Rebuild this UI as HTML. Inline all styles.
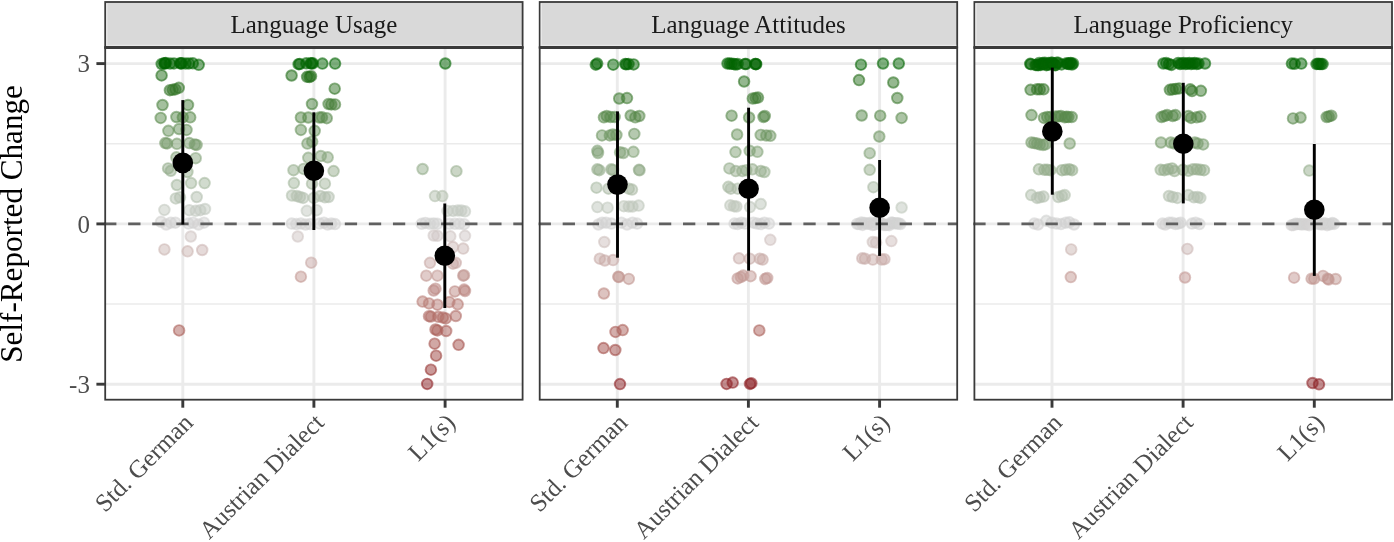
<!DOCTYPE html><html><head><meta charset="utf-8"><title>Self-Reported Change</title>
<style>html,body{margin:0;padding:0;background:#fff}svg{display:block}text{font-family:"Liberation Serif","DejaVu Serif",serif}.p circle{fill-opacity:0.5;stroke-opacity:0.57;stroke-width:1.9}</style></head><body>
<svg width="1394" height="542" viewBox="0 0 1394 542">
<rect width="1394" height="542" fill="#fff"/>
<g>
<line x1="105.2" x2="522.6" y1="143.8" y2="143.8" stroke="#ebebeb" stroke-width="1.45"/>
<line x1="105.2" x2="522.6" y1="304.0" y2="304.0" stroke="#ebebeb" stroke-width="1.45"/>
<line x1="105.2" x2="522.6" y1="63.6" y2="63.6" stroke="#ebebeb" stroke-width="2.9"/>
<line x1="105.2" x2="522.6" y1="223.9" y2="223.9" stroke="#ebebeb" stroke-width="2.9"/>
<line x1="105.2" x2="522.6" y1="384.2" y2="384.2" stroke="#ebebeb" stroke-width="2.9"/>
<line x1="182.8" x2="182.8" y1="47.5" y2="399.7" stroke="#ebebeb" stroke-width="2.9"/>
<line x1="313.9" x2="313.9" y1="47.5" y2="399.7" stroke="#ebebeb" stroke-width="2.9"/>
<line x1="445.1" x2="445.1" y1="47.5" y2="399.7" stroke="#ebebeb" stroke-width="2.9"/>
</g>
<g class="p">
<circle cx="161.7" cy="64.0" r="5.3" fill="#016401" stroke="#016401"/>
<circle cx="164.3" cy="63.2" r="5.3" fill="#006400" stroke="#006400"/>
<circle cx="165.0" cy="63.6" r="5.3" fill="#006400" stroke="#006400"/>
<circle cx="165.8" cy="63.0" r="5.3" fill="#006400" stroke="#006400"/>
<circle cx="170.0" cy="63.6" r="5.3" fill="#006400" stroke="#006400"/>
<circle cx="174.0" cy="63.4" r="5.3" fill="#006400" stroke="#006400"/>
<circle cx="180.2" cy="63.2" r="5.3" fill="#006400" stroke="#006400"/>
<circle cx="181.0" cy="63.5" r="5.3" fill="#006400" stroke="#006400"/>
<circle cx="181.8" cy="63.2" r="5.3" fill="#006400" stroke="#006400"/>
<circle cx="185.6" cy="63.5" r="5.3" fill="#006400" stroke="#006400"/>
<circle cx="188.9" cy="63.4" r="5.3" fill="#006400" stroke="#006400"/>
<circle cx="192.8" cy="63.3" r="5.3" fill="#006400" stroke="#006400"/>
<circle cx="198.7" cy="64.8" r="5.3" fill="#046502" stroke="#046502"/>
<circle cx="161.6" cy="75.4" r="5.3" fill="#206c16" stroke="#206c16"/>
<circle cx="169.9" cy="90.2" r="5.3" fill="#36762a" stroke="#36762a"/>
<circle cx="172.7" cy="89.8" r="5.3" fill="#36762a" stroke="#36762a"/>
<circle cx="175.4" cy="89.3" r="5.3" fill="#357629" stroke="#357629"/>
<circle cx="178.8" cy="87.8" r="5.3" fill="#337527" stroke="#337527"/>
<circle cx="162.5" cy="105.0" r="5.3" fill="#4a813d" stroke="#4a813d"/>
<circle cx="188.0" cy="105.0" r="5.3" fill="#4a813d" stroke="#4a813d"/>
<circle cx="160.7" cy="117.9" r="5.3" fill="#59894c" stroke="#59894c"/>
<circle cx="176.4" cy="117.0" r="5.3" fill="#58894b" stroke="#58894b"/>
<circle cx="182.8" cy="117.3" r="5.3" fill="#59894c" stroke="#59894c"/>
<circle cx="190.2" cy="117.3" r="5.3" fill="#59894c" stroke="#59894c"/>
<circle cx="168.4" cy="130.8" r="5.3" fill="#68925c" stroke="#68925c"/>
<circle cx="179.1" cy="129.0" r="5.3" fill="#66915a" stroke="#66915a"/>
<circle cx="186.5" cy="129.9" r="5.3" fill="#67925b" stroke="#67925b"/>
<circle cx="165.3" cy="143.1" r="5.3" fill="#779b6b" stroke="#779b6b"/>
<circle cx="167.1" cy="143.4" r="5.3" fill="#779b6b" stroke="#779b6b"/>
<circle cx="176.9" cy="143.8" r="5.3" fill="#779b6c" stroke="#779b6c"/>
<circle cx="189.3" cy="143.1" r="5.3" fill="#779b6b" stroke="#779b6b"/>
<circle cx="194.8" cy="144.4" r="5.3" fill="#789c6d" stroke="#789c6d"/>
<circle cx="196.6" cy="144.9" r="5.3" fill="#799c6d" stroke="#799c6d"/>
<circle cx="195.7" cy="158.2" r="5.3" fill="#88a57e" stroke="#88a57e"/>
<circle cx="176.4" cy="157.3" r="5.3" fill="#87a57d" stroke="#87a57d"/>
<circle cx="168.1" cy="168.4" r="5.3" fill="#93ac8b" stroke="#93ac8b"/>
<circle cx="170.8" cy="170.8" r="5.3" fill="#96ae8e" stroke="#96ae8e"/>
<circle cx="187.4" cy="172.0" r="5.3" fill="#98af8f" stroke="#98af8f"/>
<circle cx="176.9" cy="185.0" r="5.3" fill="#a6b8a0" stroke="#a6b8a0"/>
<circle cx="191.1" cy="183.1" r="5.3" fill="#a4b79d" stroke="#a4b79d"/>
<circle cx="204.6" cy="183.1" r="5.3" fill="#a4b79d" stroke="#a4b79d"/>
<circle cx="175.8" cy="198.4" r="5.3" fill="#b6c1b1" stroke="#b6c1b1"/>
<circle cx="180.0" cy="197.3" r="5.3" fill="#b4c0b0" stroke="#b4c0b0"/>
<circle cx="196.7" cy="197.0" r="5.3" fill="#b4c0af" stroke="#b4c0af"/>
<circle cx="164.4" cy="209.9" r="5.3" fill="#c3c9c0" stroke="#c3c9c0"/>
<circle cx="189.3" cy="210.2" r="5.3" fill="#c3c9c1" stroke="#c3c9c1"/>
<circle cx="195.7" cy="210.8" r="5.3" fill="#c4cac2" stroke="#c4cac2"/>
<circle cx="200.3" cy="210.2" r="5.3" fill="#c3c9c1" stroke="#c3c9c1"/>
<circle cx="205.0" cy="209.0" r="5.3" fill="#c2c9bf" stroke="#c2c9bf"/>
<circle cx="161.0" cy="221.8" r="5.3" fill="#d1d2d0" stroke="#d1d2d0"/>
<circle cx="166.2" cy="224.5" r="5.3" fill="#d3d2d2" stroke="#d3d2d2"/>
<circle cx="170.8" cy="222.7" r="5.3" fill="#d2d2d1" stroke="#d2d2d1"/>
<circle cx="175.4" cy="222.7" r="5.3" fill="#d2d2d1" stroke="#d2d2d1"/>
<circle cx="188.4" cy="223.6" r="5.3" fill="#d3d3d3" stroke="#d3d3d3"/>
<circle cx="193.0" cy="222.7" r="5.3" fill="#d2d2d1" stroke="#d2d2d1"/>
<circle cx="198.5" cy="224.5" r="5.3" fill="#d3d2d2" stroke="#d3d2d2"/>
<circle cx="204.0" cy="222.7" r="5.3" fill="#d2d2d1" stroke="#d2d2d1"/>
<circle cx="190.8" cy="236.5" r="5.3" fill="#d0c5c4" stroke="#d0c5c4"/>
<circle cx="164.4" cy="249.4" r="5.3" fill="#ccb7b4" stroke="#ccb7b4"/>
<circle cx="187.6" cy="251.3" r="5.3" fill="#ccb5b2" stroke="#ccb5b2"/>
<circle cx="202.2" cy="250.0" r="5.3" fill="#ccb6b4" stroke="#ccb6b4"/>
<circle cx="179.1" cy="330.4" r="5.3" fill="#ab6059" stroke="#ab6059"/>
<circle cx="298.6" cy="64.2" r="5.3" fill="#026401" stroke="#026401"/>
<circle cx="299.8" cy="64.0" r="5.3" fill="#016401" stroke="#016401"/>
<circle cx="306.3" cy="63.3" r="5.3" fill="#006400" stroke="#006400"/>
<circle cx="310.6" cy="63.3" r="5.3" fill="#006400" stroke="#006400"/>
<circle cx="311.6" cy="63.4" r="5.3" fill="#006400" stroke="#006400"/>
<circle cx="312.8" cy="63.3" r="5.3" fill="#006400" stroke="#006400"/>
<circle cx="322.4" cy="63.6" r="5.3" fill="#006400" stroke="#006400"/>
<circle cx="335.1" cy="63.6" r="5.3" fill="#006400" stroke="#006400"/>
<circle cx="291.6" cy="75.5" r="5.3" fill="#206c16" stroke="#206c16"/>
<circle cx="307.1" cy="76.8" r="5.3" fill="#226d18" stroke="#226d18"/>
<circle cx="309.4" cy="77.0" r="5.3" fill="#226d18" stroke="#226d18"/>
<circle cx="311.0" cy="76.2" r="5.3" fill="#216d17" stroke="#216d17"/>
<circle cx="334.7" cy="88.7" r="5.3" fill="#347528" stroke="#347528"/>
<circle cx="312.0" cy="104.0" r="5.3" fill="#48803b" stroke="#48803b"/>
<circle cx="328.6" cy="104.0" r="5.3" fill="#48803b" stroke="#48803b"/>
<circle cx="331.3" cy="104.4" r="5.3" fill="#49803c" stroke="#49803c"/>
<circle cx="335.0" cy="104.4" r="5.3" fill="#49803c" stroke="#49803c"/>
<circle cx="300.9" cy="117.5" r="5.3" fill="#59894c" stroke="#59894c"/>
<circle cx="308.3" cy="117.5" r="5.3" fill="#59894c" stroke="#59894c"/>
<circle cx="319.4" cy="117.5" r="5.3" fill="#59894c" stroke="#59894c"/>
<circle cx="322.0" cy="117.3" r="5.3" fill="#59894c" stroke="#59894c"/>
<circle cx="326.7" cy="118.2" r="5.3" fill="#5a8a4d" stroke="#5a8a4d"/>
<circle cx="300.9" cy="129.9" r="5.3" fill="#67925b" stroke="#67925b"/>
<circle cx="314.7" cy="130.8" r="5.3" fill="#68925c" stroke="#68925c"/>
<circle cx="307.4" cy="143.6" r="5.3" fill="#779b6c" stroke="#779b6c"/>
<circle cx="312.2" cy="141.6" r="5.3" fill="#759a69" stroke="#759a69"/>
<circle cx="308.3" cy="157.8" r="5.3" fill="#87a57d" stroke="#87a57d"/>
<circle cx="320.8" cy="156.0" r="5.3" fill="#85a47b" stroke="#85a47b"/>
<circle cx="327.7" cy="157.3" r="5.3" fill="#87a57d" stroke="#87a57d"/>
<circle cx="293.5" cy="170.2" r="5.3" fill="#96ae8d" stroke="#96ae8d"/>
<circle cx="303.7" cy="168.9" r="5.3" fill="#94ad8b" stroke="#94ad8b"/>
<circle cx="333.6" cy="171.1" r="5.3" fill="#97ae8e" stroke="#97ae8e"/>
<circle cx="293.9" cy="183.1" r="5.3" fill="#a4b79d" stroke="#a4b79d"/>
<circle cx="312.0" cy="183.7" r="5.3" fill="#a5b79e" stroke="#a5b79e"/>
<circle cx="324.9" cy="183.7" r="5.3" fill="#a5b79e" stroke="#a5b79e"/>
<circle cx="292.0" cy="195.5" r="5.3" fill="#b2bfad" stroke="#b2bfad"/>
<circle cx="296.8" cy="196.0" r="5.3" fill="#b3bfae" stroke="#b3bfae"/>
<circle cx="300.0" cy="197.0" r="5.3" fill="#b4c0af" stroke="#b4c0af"/>
<circle cx="303.1" cy="197.9" r="5.3" fill="#b5c1b1" stroke="#b5c1b1"/>
<circle cx="313.8" cy="197.9" r="5.3" fill="#b5c1b1" stroke="#b5c1b1"/>
<circle cx="320.3" cy="196.0" r="5.3" fill="#b3bfae" stroke="#b3bfae"/>
<circle cx="324.9" cy="197.3" r="5.3" fill="#b4c0b0" stroke="#b4c0b0"/>
<circle cx="328.6" cy="197.0" r="5.3" fill="#b4c0af" stroke="#b4c0af"/>
<circle cx="306.8" cy="210.8" r="5.3" fill="#c4cac2" stroke="#c4cac2"/>
<circle cx="316.6" cy="210.2" r="5.3" fill="#c3c9c1" stroke="#c3c9c1"/>
<circle cx="291.7" cy="223.6" r="5.3" fill="#d3d3d3" stroke="#d3d3d3"/>
<circle cx="296.3" cy="224.1" r="5.3" fill="#d3d3d3" stroke="#d3d3d3"/>
<circle cx="300.9" cy="223.6" r="5.3" fill="#d3d3d3" stroke="#d3d3d3"/>
<circle cx="305.5" cy="224.5" r="5.3" fill="#d3d2d2" stroke="#d3d2d2"/>
<circle cx="310.1" cy="224.1" r="5.3" fill="#d3d3d3" stroke="#d3d3d3"/>
<circle cx="319.4" cy="223.6" r="5.3" fill="#d3d3d3" stroke="#d3d3d3"/>
<circle cx="324.0" cy="222.7" r="5.3" fill="#d2d2d1" stroke="#d2d2d1"/>
<circle cx="327.7" cy="224.5" r="5.3" fill="#d3d2d2" stroke="#d3d2d2"/>
<circle cx="331.3" cy="223.6" r="5.3" fill="#d3d3d3" stroke="#d3d3d3"/>
<circle cx="335.0" cy="224.1" r="5.3" fill="#d3d3d3" stroke="#d3d3d3"/>
<circle cx="297.8" cy="236.5" r="5.3" fill="#d0c5c4" stroke="#d0c5c4"/>
<circle cx="311.2" cy="262.7" r="5.3" fill="#c8a8a5" stroke="#c8a8a5"/>
<circle cx="300.9" cy="276.7" r="5.3" fill="#c39994" stroke="#c39994"/>
<circle cx="445.3" cy="63.5" r="5.3" fill="#006400" stroke="#006400"/>
<circle cx="422.6" cy="169.0" r="5.3" fill="#94ad8b" stroke="#94ad8b"/>
<circle cx="456.4" cy="171.2" r="5.3" fill="#97ae8e" stroke="#97ae8e"/>
<circle cx="435.0" cy="196.1" r="5.3" fill="#b3c0ae" stroke="#b3c0ae"/>
<circle cx="442.3" cy="196.1" r="5.3" fill="#b3c0ae" stroke="#b3c0ae"/>
<circle cx="447.5" cy="210.9" r="5.3" fill="#c4cac2" stroke="#c4cac2"/>
<circle cx="453.0" cy="210.9" r="5.3" fill="#c4cac2" stroke="#c4cac2"/>
<circle cx="457.7" cy="210.5" r="5.3" fill="#c4cac1" stroke="#c4cac1"/>
<circle cx="461.3" cy="210.5" r="5.3" fill="#c4cac1" stroke="#c4cac1"/>
<circle cx="465.0" cy="211.3" r="5.3" fill="#c4cac2" stroke="#c4cac2"/>
<circle cx="421.7" cy="223.8" r="5.3" fill="#d3d3d3" stroke="#d3d3d3"/>
<circle cx="425.4" cy="222.9" r="5.3" fill="#d2d2d2" stroke="#d2d2d2"/>
<circle cx="430.0" cy="223.8" r="5.3" fill="#d3d3d3" stroke="#d3d3d3"/>
<circle cx="433.7" cy="223.4" r="5.3" fill="#d2d3d2" stroke="#d2d3d2"/>
<circle cx="437.4" cy="223.8" r="5.3" fill="#d3d3d3" stroke="#d3d3d3"/>
<circle cx="449.4" cy="223.8" r="5.3" fill="#d3d3d3" stroke="#d3d3d3"/>
<circle cx="454.9" cy="223.8" r="5.3" fill="#d3d3d3" stroke="#d3d3d3"/>
<circle cx="459.5" cy="223.8" r="5.3" fill="#d3d3d3" stroke="#d3d3d3"/>
<circle cx="464.1" cy="224.2" r="5.3" fill="#d3d3d3" stroke="#d3d3d3"/>
<circle cx="433.7" cy="235.5" r="5.3" fill="#d0c6c5" stroke="#d0c6c5"/>
<circle cx="437.4" cy="235.8" r="5.3" fill="#d0c6c5" stroke="#d0c6c5"/>
<circle cx="450.3" cy="236.3" r="5.3" fill="#d0c5c4" stroke="#d0c5c4"/>
<circle cx="465.0" cy="235.8" r="5.3" fill="#d0c6c5" stroke="#d0c6c5"/>
<circle cx="453.0" cy="247.1" r="5.3" fill="#cdb9b7" stroke="#cdb9b7"/>
<circle cx="463.2" cy="248.6" r="5.3" fill="#ccb8b5" stroke="#ccb8b5"/>
<circle cx="430.0" cy="262.8" r="5.3" fill="#c8a8a5" stroke="#c8a8a5"/>
<circle cx="453.0" cy="263.7" r="5.3" fill="#c8a7a4" stroke="#c8a7a4"/>
<circle cx="455.8" cy="262.8" r="5.3" fill="#c8a8a5" stroke="#c8a8a5"/>
<circle cx="426.3" cy="275.7" r="5.3" fill="#c39a96" stroke="#c39a96"/>
<circle cx="437.4" cy="275.7" r="5.3" fill="#c39a96" stroke="#c39a96"/>
<circle cx="463.2" cy="275.7" r="5.3" fill="#c39a96" stroke="#c39a96"/>
<circle cx="464.0" cy="275.2" r="5.3" fill="#c39b96" stroke="#c39b96"/>
<circle cx="433.7" cy="290.5" r="5.3" fill="#bd8a85" stroke="#bd8a85"/>
<circle cx="435.5" cy="288.7" r="5.3" fill="#be8c87" stroke="#be8c87"/>
<circle cx="454.9" cy="291.4" r="5.3" fill="#bd8984" stroke="#bd8984"/>
<circle cx="464.1" cy="289.6" r="5.3" fill="#be8b86" stroke="#be8b86"/>
<circle cx="465.0" cy="291.0" r="5.3" fill="#bd8a84" stroke="#bd8a84"/>
<circle cx="422.6" cy="301.6" r="5.3" fill="#b97f78" stroke="#b97f78"/>
<circle cx="429.0" cy="303.4" r="5.3" fill="#b87d76" stroke="#b87d76"/>
<circle cx="437.4" cy="304.7" r="5.3" fill="#b77b75" stroke="#b77b75"/>
<circle cx="449.4" cy="302.1" r="5.3" fill="#b87e78" stroke="#b87e78"/>
<circle cx="457.7" cy="304.3" r="5.3" fill="#b87c75" stroke="#b87c75"/>
<circle cx="429.0" cy="316.2" r="5.3" fill="#b26f69" stroke="#b26f69"/>
<circle cx="430.9" cy="316.6" r="5.3" fill="#b26e68" stroke="#b26e68"/>
<circle cx="438.3" cy="316.8" r="5.3" fill="#b26e68" stroke="#b26e68"/>
<circle cx="442.9" cy="317.5" r="5.3" fill="#b16d67" stroke="#b16d67"/>
<circle cx="445.7" cy="318.4" r="5.3" fill="#b16d66" stroke="#b16d66"/>
<circle cx="455.8" cy="316.0" r="5.3" fill="#b26f69" stroke="#b26f69"/>
<circle cx="435.5" cy="329.5" r="5.3" fill="#ab615a" stroke="#ab615a"/>
<circle cx="437.4" cy="330.4" r="5.3" fill="#ab6059" stroke="#ab6059"/>
<circle cx="446.2" cy="331.0" r="5.3" fill="#ab5f59" stroke="#ab5f59"/>
<circle cx="434.6" cy="343.7" r="5.3" fill="#a4514c" stroke="#a4514c"/>
<circle cx="458.6" cy="344.8" r="5.3" fill="#a3504a" stroke="#a3504a"/>
<circle cx="436.1" cy="355.7" r="5.3" fill="#9d443f" stroke="#9d443f"/>
<circle cx="430.9" cy="369.7" r="5.3" fill="#953332" stroke="#953332"/>
<circle cx="427.2" cy="383.9" r="5.3" fill="#8c2024" stroke="#8c2024"/>
</g>
<line x1="104.1" x2="522.6" y1="223.9" y2="223.9" stroke="#606060" stroke-width="2.9" stroke-dasharray="12.3,11.77"/>
<line x1="182.8" x2="182.8" y1="100.1" y2="224.5" stroke="#000" stroke-width="2.9"/>
<circle cx="182.8" cy="162.9" r="10.3" fill="#000"/>
<line x1="313.85" x2="313.85" y1="112.3" y2="230" stroke="#000" stroke-width="2.9"/>
<circle cx="313.85" cy="170.8" r="10.3" fill="#000"/>
<line x1="444.8" x2="444.8" y1="203.5" y2="308" stroke="#000" stroke-width="2.9"/>
<circle cx="444.8" cy="255.7" r="10.3" fill="#000"/>
<rect x="105.2" y="47.5" width="417.4" height="352.2" fill="none" stroke="#3a3a3a" stroke-width="1.8"/>
<rect x="105.2" y="2.0" width="417.4" height="45.5" fill="#d9d9d9" stroke="#3a3a3a" stroke-width="1.8"/>
<path d="M106.8 3.2 V45.3 H521.6" fill="none" stroke="#e8e8e8" stroke-width="1.3"/>
<line x1="104.4" x2="523.4" y1="47.5" y2="47.5" stroke="#3a3a3a" stroke-width="3.1"/>
<text x="313.9" y="32.9" font-size="24.95" text-anchor="middle" fill="#1a1a1a">Language Usage</text>
<line x1="182.8" x2="182.8" y1="399.7" y2="407.7" stroke="#3a3a3a" stroke-width="2.9"/>
<text transform="translate(194.2,424.1) rotate(-45)" font-size="24.95" text-anchor="end" fill="#4d4d4d">Std. German</text>
<line x1="313.9" x2="313.9" y1="399.7" y2="407.7" stroke="#3a3a3a" stroke-width="2.9"/>
<text transform="translate(325.3,424.1) rotate(-45)" font-size="24.95" text-anchor="end" fill="#4d4d4d">Austrian Dialect</text>
<line x1="445.1" x2="445.1" y1="399.7" y2="407.7" stroke="#3a3a3a" stroke-width="2.9"/>
<text transform="translate(456.5,424.1) rotate(-45)" font-size="24.95" text-anchor="end" fill="#4d4d4d">L1(s)</text>
<g>
<line x1="539.7" x2="957.2" y1="143.8" y2="143.8" stroke="#ebebeb" stroke-width="1.45"/>
<line x1="539.7" x2="957.2" y1="304.0" y2="304.0" stroke="#ebebeb" stroke-width="1.45"/>
<line x1="539.7" x2="957.2" y1="63.6" y2="63.6" stroke="#ebebeb" stroke-width="2.9"/>
<line x1="539.7" x2="957.2" y1="223.9" y2="223.9" stroke="#ebebeb" stroke-width="2.9"/>
<line x1="539.7" x2="957.2" y1="384.2" y2="384.2" stroke="#ebebeb" stroke-width="2.9"/>
<line x1="617.3" x2="617.3" y1="47.5" y2="399.7" stroke="#ebebeb" stroke-width="2.9"/>
<line x1="748.4" x2="748.4" y1="47.5" y2="399.7" stroke="#ebebeb" stroke-width="2.9"/>
<line x1="879.6" x2="879.6" y1="47.5" y2="399.7" stroke="#ebebeb" stroke-width="2.9"/>
</g>
<g class="p">
<circle cx="595.8" cy="64.7" r="5.3" fill="#046502" stroke="#046502"/>
<circle cx="597.2" cy="63.6" r="5.3" fill="#006400" stroke="#006400"/>
<circle cx="613.2" cy="64.7" r="5.3" fill="#046502" stroke="#046502"/>
<circle cx="625.3" cy="64.0" r="5.3" fill="#016401" stroke="#016401"/>
<circle cx="626.4" cy="64.3" r="5.3" fill="#026401" stroke="#026401"/>
<circle cx="628.6" cy="64.1" r="5.3" fill="#026401" stroke="#026401"/>
<circle cx="633.6" cy="64.4" r="5.3" fill="#036501" stroke="#036501"/>
<circle cx="619.2" cy="98.5" r="5.3" fill="#417c35" stroke="#417c35"/>
<circle cx="627.0" cy="98.1" r="5.3" fill="#417c34" stroke="#417c34"/>
<circle cx="603.9" cy="117.3" r="5.3" fill="#59894c" stroke="#59894c"/>
<circle cx="606.7" cy="116.0" r="5.3" fill="#57884a" stroke="#57884a"/>
<circle cx="610.4" cy="117.0" r="5.3" fill="#58894b" stroke="#58894b"/>
<circle cx="614.6" cy="117.0" r="5.3" fill="#58894b" stroke="#58894b"/>
<circle cx="630.7" cy="115.5" r="5.3" fill="#568849" stroke="#568849"/>
<circle cx="635.3" cy="117.3" r="5.3" fill="#59894c" stroke="#59894c"/>
<circle cx="639.3" cy="116.0" r="5.3" fill="#57884a" stroke="#57884a"/>
<circle cx="602.0" cy="135.4" r="5.3" fill="#6e9562" stroke="#6e9562"/>
<circle cx="609.8" cy="135.4" r="5.3" fill="#6e9562" stroke="#6e9562"/>
<circle cx="612.8" cy="134.5" r="5.3" fill="#6d9560" stroke="#6d9560"/>
<circle cx="616.4" cy="135.0" r="5.3" fill="#6d9561" stroke="#6d9561"/>
<circle cx="634.3" cy="133.9" r="5.3" fill="#6c9460" stroke="#6c9460"/>
<circle cx="597.4" cy="150.8" r="5.3" fill="#7fa075" stroke="#7fa075"/>
<circle cx="598.0" cy="153.0" r="5.3" fill="#82a277" stroke="#82a277"/>
<circle cx="620.1" cy="152.3" r="5.3" fill="#81a176" stroke="#81a176"/>
<circle cx="623.3" cy="153.0" r="5.3" fill="#82a277" stroke="#82a277"/>
<circle cx="633.4" cy="151.8" r="5.3" fill="#81a176" stroke="#81a176"/>
<circle cx="597.4" cy="169.3" r="5.3" fill="#95ad8c" stroke="#95ad8c"/>
<circle cx="599.3" cy="170.2" r="5.3" fill="#96ae8d" stroke="#96ae8d"/>
<circle cx="611.3" cy="169.3" r="5.3" fill="#95ad8c" stroke="#95ad8c"/>
<circle cx="613.0" cy="170.0" r="5.3" fill="#95ad8d" stroke="#95ad8d"/>
<circle cx="639.0" cy="169.8" r="5.3" fill="#95ad8c" stroke="#95ad8c"/>
<circle cx="639.5" cy="170.3" r="5.3" fill="#96ae8d" stroke="#96ae8d"/>
<circle cx="596.5" cy="187.7" r="5.3" fill="#a9baa3" stroke="#a9baa3"/>
<circle cx="608.5" cy="188.7" r="5.3" fill="#abbaa5" stroke="#abbaa5"/>
<circle cx="628.8" cy="188.7" r="5.3" fill="#abbaa5" stroke="#abbaa5"/>
<circle cx="632.0" cy="189.6" r="5.3" fill="#acbba6" stroke="#acbba6"/>
<circle cx="597.4" cy="207.1" r="5.3" fill="#c0c7bd" stroke="#c0c7bd"/>
<circle cx="607.6" cy="207.7" r="5.3" fill="#c0c8bd" stroke="#c0c8bd"/>
<circle cx="623.8" cy="206.2" r="5.3" fill="#bfc7bb" stroke="#bfc7bb"/>
<circle cx="628.8" cy="206.5" r="5.3" fill="#bfc7bc" stroke="#bfc7bc"/>
<circle cx="632.5" cy="206.5" r="5.3" fill="#bfc7bc" stroke="#bfc7bc"/>
<circle cx="638.6" cy="205.6" r="5.3" fill="#bec6bb" stroke="#bec6bb"/>
<circle cx="598.4" cy="224.5" r="5.3" fill="#d3d2d2" stroke="#d3d2d2"/>
<circle cx="602.1" cy="222.7" r="5.3" fill="#d2d2d1" stroke="#d2d2d1"/>
<circle cx="606.1" cy="222.7" r="5.3" fill="#d2d2d1" stroke="#d2d2d1"/>
<circle cx="611.3" cy="223.6" r="5.3" fill="#d3d3d3" stroke="#d3d3d3"/>
<circle cx="621.4" cy="222.7" r="5.3" fill="#d2d2d1" stroke="#d2d2d1"/>
<circle cx="627.0" cy="224.5" r="5.3" fill="#d3d2d2" stroke="#d3d2d2"/>
<circle cx="632.5" cy="222.7" r="5.3" fill="#d2d2d1" stroke="#d2d2d1"/>
<circle cx="637.1" cy="223.6" r="5.3" fill="#d3d3d3" stroke="#d3d3d3"/>
<circle cx="604.3" cy="242.0" r="5.3" fill="#cebfbd" stroke="#cebfbd"/>
<circle cx="599.8" cy="258.7" r="5.3" fill="#c9ada9" stroke="#c9ada9"/>
<circle cx="604.8" cy="260.5" r="5.3" fill="#c9aba7" stroke="#c9aba7"/>
<circle cx="613.1" cy="260.1" r="5.3" fill="#c9aba8" stroke="#c9aba8"/>
<circle cx="618.3" cy="276.7" r="5.3" fill="#c39994" stroke="#c39994"/>
<circle cx="618.8" cy="277.0" r="5.3" fill="#c39994" stroke="#c39994"/>
<circle cx="628.8" cy="278.9" r="5.3" fill="#c29792" stroke="#c29792"/>
<circle cx="603.9" cy="293.5" r="5.3" fill="#bc8781" stroke="#bc8781"/>
<circle cx="615.5" cy="331.9" r="5.3" fill="#aa5e58" stroke="#aa5e58"/>
<circle cx="622.7" cy="330.1" r="5.3" fill="#ab605a" stroke="#ab605a"/>
<circle cx="603.5" cy="348.1" r="5.3" fill="#a24c47" stroke="#a24c47"/>
<circle cx="615.3" cy="350.0" r="5.3" fill="#a04a45" stroke="#a04a45"/>
<circle cx="620.0" cy="384.1" r="5.3" fill="#8c2024" stroke="#8c2024"/>
<circle cx="727.5" cy="63.5" r="5.3" fill="#006400" stroke="#006400"/>
<circle cx="729.7" cy="63.5" r="5.3" fill="#006400" stroke="#006400"/>
<circle cx="731.8" cy="63.8" r="5.3" fill="#016400" stroke="#016400"/>
<circle cx="734.0" cy="64.0" r="5.3" fill="#016401" stroke="#016401"/>
<circle cx="735.8" cy="64.5" r="5.3" fill="#036502" stroke="#036502"/>
<circle cx="737.7" cy="64.0" r="5.3" fill="#016401" stroke="#016401"/>
<circle cx="745.0" cy="64.0" r="5.3" fill="#016401" stroke="#016401"/>
<circle cx="746.0" cy="64.0" r="5.3" fill="#016401" stroke="#016401"/>
<circle cx="755.2" cy="64.0" r="5.3" fill="#016401" stroke="#016401"/>
<circle cx="755.8" cy="64.0" r="5.3" fill="#016401" stroke="#016401"/>
<circle cx="756.2" cy="64.2" r="5.3" fill="#026401" stroke="#026401"/>
<circle cx="744.1" cy="81.5" r="5.3" fill="#2a701f" stroke="#2a701f"/>
<circle cx="752.8" cy="98.5" r="5.3" fill="#417c35" stroke="#417c35"/>
<circle cx="755.6" cy="98.1" r="5.3" fill="#417c34" stroke="#417c34"/>
<circle cx="758.0" cy="97.6" r="5.3" fill="#407b33" stroke="#407b33"/>
<circle cx="731.6" cy="115.7" r="5.3" fill="#57884a" stroke="#57884a"/>
<circle cx="749.1" cy="117.5" r="5.3" fill="#59894c" stroke="#59894c"/>
<circle cx="763.5" cy="117.0" r="5.3" fill="#58894b" stroke="#58894b"/>
<circle cx="764.8" cy="116.0" r="5.3" fill="#57884a" stroke="#57884a"/>
<circle cx="737.1" cy="134.5" r="5.3" fill="#6d9560" stroke="#6d9560"/>
<circle cx="760.7" cy="134.9" r="5.3" fill="#6d9561" stroke="#6d9561"/>
<circle cx="766.3" cy="135.4" r="5.3" fill="#6e9562" stroke="#6e9562"/>
<circle cx="770.3" cy="135.8" r="5.3" fill="#6e9662" stroke="#6e9662"/>
<circle cx="735.5" cy="152.1" r="5.3" fill="#81a176" stroke="#81a176"/>
<circle cx="749.7" cy="150.8" r="5.3" fill="#7fa075" stroke="#7fa075"/>
<circle cx="757.4" cy="151.8" r="5.3" fill="#81a176" stroke="#81a176"/>
<circle cx="729.4" cy="168.4" r="5.3" fill="#93ac8b" stroke="#93ac8b"/>
<circle cx="735.8" cy="171.1" r="5.3" fill="#97ae8e" stroke="#97ae8e"/>
<circle cx="742.3" cy="171.1" r="5.3" fill="#97ae8e" stroke="#97ae8e"/>
<circle cx="746.3" cy="170.2" r="5.3" fill="#96ae8d" stroke="#96ae8d"/>
<circle cx="752.4" cy="169.3" r="5.3" fill="#95ad8c" stroke="#95ad8c"/>
<circle cx="760.7" cy="171.1" r="5.3" fill="#97ae8e" stroke="#97ae8e"/>
<circle cx="764.4" cy="172.0" r="5.3" fill="#98af8f" stroke="#98af8f"/>
<circle cx="728.4" cy="186.8" r="5.3" fill="#a8b9a2" stroke="#a8b9a2"/>
<circle cx="730.8" cy="188.7" r="5.3" fill="#abbaa5" stroke="#abbaa5"/>
<circle cx="737.7" cy="188.7" r="5.3" fill="#abbaa5" stroke="#abbaa5"/>
<circle cx="730.3" cy="205.3" r="5.3" fill="#bec6ba" stroke="#bec6ba"/>
<circle cx="734.0" cy="206.2" r="5.3" fill="#bfc7bb" stroke="#bfc7bb"/>
<circle cx="736.4" cy="206.5" r="5.3" fill="#bfc7bc" stroke="#bfc7bc"/>
<circle cx="750.0" cy="207.1" r="5.3" fill="#c0c7bd" stroke="#c0c7bd"/>
<circle cx="760.7" cy="204.0" r="5.3" fill="#bcc5b9" stroke="#bcc5b9"/>
<circle cx="734.5" cy="223.6" r="5.3" fill="#d3d3d3" stroke="#d3d3d3"/>
<circle cx="737.7" cy="224.1" r="5.3" fill="#d3d3d3" stroke="#d3d3d3"/>
<circle cx="741.4" cy="222.7" r="5.3" fill="#d2d2d1" stroke="#d2d2d1"/>
<circle cx="745.0" cy="223.6" r="5.3" fill="#d3d3d3" stroke="#d3d3d3"/>
<circle cx="753.4" cy="222.7" r="5.3" fill="#d2d2d1" stroke="#d2d2d1"/>
<circle cx="757.0" cy="223.6" r="5.3" fill="#d3d3d3" stroke="#d3d3d3"/>
<circle cx="760.7" cy="224.1" r="5.3" fill="#d3d3d3" stroke="#d3d3d3"/>
<circle cx="764.4" cy="222.7" r="5.3" fill="#d2d2d1" stroke="#d2d2d1"/>
<circle cx="769.0" cy="223.6" r="5.3" fill="#d3d3d3" stroke="#d3d3d3"/>
<circle cx="770.3" cy="239.8" r="5.3" fill="#cfc1c0" stroke="#cfc1c0"/>
<circle cx="739.0" cy="258.3" r="5.3" fill="#c9adaa" stroke="#c9adaa"/>
<circle cx="749.7" cy="258.7" r="5.3" fill="#c9ada9" stroke="#c9ada9"/>
<circle cx="759.8" cy="258.7" r="5.3" fill="#c9ada9" stroke="#c9ada9"/>
<circle cx="762.6" cy="259.6" r="5.3" fill="#c9aca8" stroke="#c9aca8"/>
<circle cx="737.7" cy="278.4" r="5.3" fill="#c29793" stroke="#c29793"/>
<circle cx="740.8" cy="277.1" r="5.3" fill="#c39994" stroke="#c39994"/>
<circle cx="743.2" cy="275.6" r="5.3" fill="#c39a96" stroke="#c39a96"/>
<circle cx="750.6" cy="276.2" r="5.3" fill="#c39a95" stroke="#c39a95"/>
<circle cx="765.3" cy="278.9" r="5.3" fill="#c29792" stroke="#c29792"/>
<circle cx="767.2" cy="278.0" r="5.3" fill="#c29893" stroke="#c29893"/>
<circle cx="759.3" cy="330.4" r="5.3" fill="#ab6059" stroke="#ab6059"/>
<circle cx="726.6" cy="383.9" r="5.3" fill="#8c2024" stroke="#8c2024"/>
<circle cx="732.7" cy="382.6" r="5.3" fill="#8d2225" stroke="#8d2225"/>
<circle cx="750.0" cy="383.9" r="5.3" fill="#8c2024" stroke="#8c2024"/>
<circle cx="751.3" cy="383.2" r="5.3" fill="#8d2125" stroke="#8d2125"/>
<circle cx="861.0" cy="64.7" r="5.3" fill="#046502" stroke="#046502"/>
<circle cx="883.0" cy="63.5" r="5.3" fill="#006400" stroke="#006400"/>
<circle cx="898.8" cy="63.5" r="5.3" fill="#006400" stroke="#006400"/>
<circle cx="859.0" cy="80.1" r="5.3" fill="#286f1d" stroke="#286f1d"/>
<circle cx="893.3" cy="82.5" r="5.3" fill="#2b7120" stroke="#2b7120"/>
<circle cx="897.3" cy="98.0" r="5.3" fill="#417c34" stroke="#417c34"/>
<circle cx="861.7" cy="115.5" r="5.3" fill="#568849" stroke="#568849"/>
<circle cx="880.2" cy="115.7" r="5.3" fill="#57884a" stroke="#57884a"/>
<circle cx="901.6" cy="117.9" r="5.3" fill="#59894c" stroke="#59894c"/>
<circle cx="879.3" cy="136.5" r="5.3" fill="#6f9663" stroke="#6f9663"/>
<circle cx="869.7" cy="153.2" r="5.3" fill="#82a278" stroke="#82a278"/>
<circle cx="869.7" cy="169.8" r="5.3" fill="#95ad8c" stroke="#95ad8c"/>
<circle cx="873.4" cy="187.2" r="5.3" fill="#a9b9a3" stroke="#a9b9a3"/>
<circle cx="901.6" cy="207.5" r="5.3" fill="#c0c8bd" stroke="#c0c8bd"/>
<circle cx="857.2" cy="223.9" r="5.3" fill="#d3d3d3" stroke="#d3d3d3"/>
<circle cx="859.2" cy="224.1" r="5.3" fill="#d3d3d3" stroke="#d3d3d3"/>
<circle cx="861.4" cy="222.4" r="5.3" fill="#d1d2d1" stroke="#d1d2d1"/>
<circle cx="862.6" cy="224.9" r="5.3" fill="#d3d2d2" stroke="#d3d2d2"/>
<circle cx="864.7" cy="222.9" r="5.3" fill="#d2d2d2" stroke="#d2d2d2"/>
<circle cx="867.3" cy="223.7" r="5.3" fill="#d3d3d3" stroke="#d3d3d3"/>
<circle cx="869.1" cy="223.7" r="5.3" fill="#d3d3d3" stroke="#d3d3d3"/>
<circle cx="870.7" cy="222.7" r="5.3" fill="#d2d2d1" stroke="#d2d2d1"/>
<circle cx="872.6" cy="225.0" r="5.3" fill="#d3d2d2" stroke="#d3d2d2"/>
<circle cx="874.3" cy="224.6" r="5.3" fill="#d3d2d2" stroke="#d3d2d2"/>
<circle cx="876.4" cy="222.4" r="5.3" fill="#d1d2d1" stroke="#d1d2d1"/>
<circle cx="878.3" cy="224.1" r="5.3" fill="#d3d3d3" stroke="#d3d3d3"/>
<circle cx="879.7" cy="222.3" r="5.3" fill="#d1d2d1" stroke="#d1d2d1"/>
<circle cx="882.2" cy="223.7" r="5.3" fill="#d3d3d3" stroke="#d3d3d3"/>
<circle cx="883.9" cy="225.0" r="5.3" fill="#d3d2d2" stroke="#d3d2d2"/>
<circle cx="885.8" cy="225.1" r="5.3" fill="#d3d2d1" stroke="#d3d2d1"/>
<circle cx="887.3" cy="224.8" r="5.3" fill="#d3d2d2" stroke="#d3d2d2"/>
<circle cx="889.2" cy="225.2" r="5.3" fill="#d3d2d1" stroke="#d3d2d1"/>
<circle cx="891.5" cy="222.5" r="5.3" fill="#d1d2d1" stroke="#d1d2d1"/>
<circle cx="892.7" cy="222.9" r="5.3" fill="#d2d2d2" stroke="#d2d2d2"/>
<circle cx="895.4" cy="223.6" r="5.3" fill="#d3d3d3" stroke="#d3d3d3"/>
<circle cx="896.9" cy="223.2" r="5.3" fill="#d2d2d2" stroke="#d2d2d2"/>
<circle cx="898.6" cy="223.4" r="5.3" fill="#d2d3d2" stroke="#d2d3d2"/>
<circle cx="900.4" cy="224.1" r="5.3" fill="#d3d3d3" stroke="#d3d3d3"/>
<circle cx="872.8" cy="242.0" r="5.3" fill="#cebfbd" stroke="#cebfbd"/>
<circle cx="876.1" cy="242.6" r="5.3" fill="#cebebc" stroke="#cebebc"/>
<circle cx="891.4" cy="241.1" r="5.3" fill="#cfc0be" stroke="#cfc0be"/>
<circle cx="862.3" cy="258.3" r="5.3" fill="#c9adaa" stroke="#c9adaa"/>
<circle cx="865.0" cy="258.7" r="5.3" fill="#c9ada9" stroke="#c9ada9"/>
<circle cx="872.8" cy="259.6" r="5.3" fill="#c9aca8" stroke="#c9aca8"/>
<circle cx="881.7" cy="259.6" r="5.3" fill="#c9aca8" stroke="#c9aca8"/>
<circle cx="884.4" cy="259.2" r="5.3" fill="#c9aca9" stroke="#c9aca9"/>
</g>
<line x1="538.6" x2="957.2" y1="223.9" y2="223.9" stroke="#606060" stroke-width="2.9" stroke-dasharray="12.3,11.77"/>
<line x1="617.5" x2="617.5" y1="111.4" y2="257.7" stroke="#000" stroke-width="2.9"/>
<circle cx="617.5" cy="184.6" r="10.3" fill="#000"/>
<line x1="748.6" x2="748.6" y1="107.7" y2="270.6" stroke="#000" stroke-width="2.9"/>
<circle cx="748.6" cy="188.7" r="10.3" fill="#000"/>
<line x1="879.6" x2="879.6" y1="160" y2="255.9" stroke="#000" stroke-width="2.9"/>
<circle cx="879.6" cy="207.7" r="10.3" fill="#000"/>
<rect x="539.7" y="47.5" width="417.5" height="352.2" fill="none" stroke="#3a3a3a" stroke-width="1.8"/>
<rect x="539.7" y="2.0" width="417.5" height="45.5" fill="#d9d9d9" stroke="#3a3a3a" stroke-width="1.8"/>
<path d="M541.3 3.2 V45.3 H956.2" fill="none" stroke="#e8e8e8" stroke-width="1.3"/>
<line x1="538.9" x2="958.0" y1="47.5" y2="47.5" stroke="#3a3a3a" stroke-width="3.1"/>
<text x="748.5" y="32.9" font-size="24.95" text-anchor="middle" fill="#1a1a1a">Language Attitudes</text>
<line x1="617.3" x2="617.3" y1="399.7" y2="407.7" stroke="#3a3a3a" stroke-width="2.9"/>
<text transform="translate(628.7,424.1) rotate(-45)" font-size="24.95" text-anchor="end" fill="#4d4d4d">Std. German</text>
<line x1="748.4" x2="748.4" y1="399.7" y2="407.7" stroke="#3a3a3a" stroke-width="2.9"/>
<text transform="translate(759.8,424.1) rotate(-45)" font-size="24.95" text-anchor="end" fill="#4d4d4d">Austrian Dialect</text>
<line x1="879.6" x2="879.6" y1="399.7" y2="407.7" stroke="#3a3a3a" stroke-width="2.9"/>
<text transform="translate(891.0,424.1) rotate(-45)" font-size="24.95" text-anchor="end" fill="#4d4d4d">L1(s)</text>
<g>
<line x1="974.4" x2="1392.0" y1="143.8" y2="143.8" stroke="#ebebeb" stroke-width="1.45"/>
<line x1="974.4" x2="1392.0" y1="304.0" y2="304.0" stroke="#ebebeb" stroke-width="1.45"/>
<line x1="974.4" x2="1392.0" y1="63.6" y2="63.6" stroke="#ebebeb" stroke-width="2.9"/>
<line x1="974.4" x2="1392.0" y1="223.9" y2="223.9" stroke="#ebebeb" stroke-width="2.9"/>
<line x1="974.4" x2="1392.0" y1="384.2" y2="384.2" stroke="#ebebeb" stroke-width="2.9"/>
<line x1="1052.0" x2="1052.0" y1="47.5" y2="399.7" stroke="#ebebeb" stroke-width="2.9"/>
<line x1="1183.1" x2="1183.1" y1="47.5" y2="399.7" stroke="#ebebeb" stroke-width="2.9"/>
<line x1="1314.3" x2="1314.3" y1="47.5" y2="399.7" stroke="#ebebeb" stroke-width="2.9"/>
</g>
<g class="p">
<circle cx="1030.2" cy="63.8" r="5.3" fill="#016400" stroke="#016400"/>
<circle cx="1031.0" cy="64.2" r="5.3" fill="#026401" stroke="#026401"/>
<circle cx="1035.6" cy="65.0" r="5.3" fill="#056502" stroke="#056502"/>
<circle cx="1036.8" cy="65.0" r="5.3" fill="#056503" stroke="#056503"/>
<circle cx="1038.2" cy="65.2" r="5.3" fill="#056503" stroke="#056503"/>
<circle cx="1039.2" cy="63.0" r="5.3" fill="#006400" stroke="#006400"/>
<circle cx="1040.5" cy="65.1" r="5.3" fill="#056503" stroke="#056503"/>
<circle cx="1041.7" cy="64.1" r="5.3" fill="#026401" stroke="#026401"/>
<circle cx="1042.8" cy="63.1" r="5.3" fill="#006400" stroke="#006400"/>
<circle cx="1044.1" cy="64.1" r="5.3" fill="#026401" stroke="#026401"/>
<circle cx="1044.8" cy="62.8" r="5.3" fill="#006400" stroke="#006400"/>
<circle cx="1046.4" cy="65.2" r="5.3" fill="#056503" stroke="#056503"/>
<circle cx="1047.0" cy="64.7" r="5.3" fill="#046502" stroke="#046502"/>
<circle cx="1048.5" cy="63.0" r="5.3" fill="#006400" stroke="#006400"/>
<circle cx="1049.5" cy="64.6" r="5.3" fill="#036502" stroke="#036502"/>
<circle cx="1051.2" cy="62.7" r="5.3" fill="#006400" stroke="#006400"/>
<circle cx="1052.2" cy="62.7" r="5.3" fill="#006400" stroke="#006400"/>
<circle cx="1053.4" cy="63.5" r="5.3" fill="#006400" stroke="#006400"/>
<circle cx="1054.8" cy="65.1" r="5.3" fill="#056503" stroke="#056503"/>
<circle cx="1055.6" cy="65.2" r="5.3" fill="#066503" stroke="#066503"/>
<circle cx="1056.7" cy="62.8" r="5.3" fill="#006400" stroke="#006400"/>
<circle cx="1058.1" cy="62.7" r="5.3" fill="#006400" stroke="#006400"/>
<circle cx="1061.6" cy="64.4" r="5.3" fill="#036501" stroke="#036501"/>
<circle cx="1066.5" cy="63.3" r="5.3" fill="#006400" stroke="#006400"/>
<circle cx="1067.6" cy="63.7" r="5.3" fill="#006400" stroke="#006400"/>
<circle cx="1068.7" cy="64.1" r="5.3" fill="#026401" stroke="#026401"/>
<circle cx="1069.8" cy="63.2" r="5.3" fill="#006400" stroke="#006400"/>
<circle cx="1070.8" cy="63.0" r="5.3" fill="#006400" stroke="#006400"/>
<circle cx="1071.9" cy="64.6" r="5.3" fill="#046502" stroke="#046502"/>
<circle cx="1073.0" cy="63.5" r="5.3" fill="#006400" stroke="#006400"/>
<circle cx="1030.6" cy="89.8" r="5.3" fill="#36762a" stroke="#36762a"/>
<circle cx="1037.0" cy="89.3" r="5.3" fill="#357629" stroke="#357629"/>
<circle cx="1039.8" cy="89.3" r="5.3" fill="#357629" stroke="#357629"/>
<circle cx="1043.5" cy="89.3" r="5.3" fill="#357629" stroke="#357629"/>
<circle cx="1031.5" cy="115.1" r="5.3" fill="#568749" stroke="#568749"/>
<circle cx="1044.0" cy="117.9" r="5.3" fill="#59894c" stroke="#59894c"/>
<circle cx="1047.2" cy="117.0" r="5.3" fill="#58894b" stroke="#58894b"/>
<circle cx="1050.3" cy="117.0" r="5.3" fill="#58894b" stroke="#58894b"/>
<circle cx="1055.5" cy="116.6" r="5.3" fill="#58884b" stroke="#58884b"/>
<circle cx="1058.5" cy="116.4" r="5.3" fill="#58884a" stroke="#58884a"/>
<circle cx="1061.0" cy="116.0" r="5.3" fill="#57884a" stroke="#57884a"/>
<circle cx="1066.5" cy="116.8" r="5.3" fill="#58894b" stroke="#58894b"/>
<circle cx="1064.7" cy="117.3" r="5.3" fill="#59894c" stroke="#59894c"/>
<circle cx="1068.4" cy="117.0" r="5.3" fill="#58894b" stroke="#58894b"/>
<circle cx="1071.7" cy="117.0" r="5.3" fill="#58894b" stroke="#58894b"/>
<circle cx="1031.5" cy="142.5" r="5.3" fill="#769a6a" stroke="#769a6a"/>
<circle cx="1034.3" cy="143.1" r="5.3" fill="#779b6b" stroke="#779b6b"/>
<circle cx="1037.1" cy="143.5" r="5.3" fill="#779b6c" stroke="#779b6c"/>
<circle cx="1039.8" cy="144.4" r="5.3" fill="#789c6d" stroke="#789c6d"/>
<circle cx="1043.0" cy="144.9" r="5.3" fill="#799c6d" stroke="#799c6d"/>
<circle cx="1045.4" cy="144.4" r="5.3" fill="#789c6d" stroke="#789c6d"/>
<circle cx="1069.7" cy="143.5" r="5.3" fill="#779b6c" stroke="#779b6c"/>
<circle cx="1038.9" cy="169.3" r="5.3" fill="#95ad8c" stroke="#95ad8c"/>
<circle cx="1044.4" cy="169.8" r="5.3" fill="#95ad8c" stroke="#95ad8c"/>
<circle cx="1047.2" cy="169.8" r="5.3" fill="#95ad8c" stroke="#95ad8c"/>
<circle cx="1050.3" cy="170.2" r="5.3" fill="#96ae8d" stroke="#96ae8d"/>
<circle cx="1062.0" cy="170.2" r="5.3" fill="#96ae8d" stroke="#96ae8d"/>
<circle cx="1065.7" cy="169.8" r="5.3" fill="#95ad8c" stroke="#95ad8c"/>
<circle cx="1069.3" cy="169.3" r="5.3" fill="#95ad8c" stroke="#95ad8c"/>
<circle cx="1072.1" cy="170.2" r="5.3" fill="#96ae8d" stroke="#96ae8d"/>
<circle cx="1031.2" cy="195.1" r="5.3" fill="#b2bfad" stroke="#b2bfad"/>
<circle cx="1037.0" cy="197.9" r="5.3" fill="#b5c1b1" stroke="#b5c1b1"/>
<circle cx="1039.8" cy="197.3" r="5.3" fill="#b4c0b0" stroke="#b4c0b0"/>
<circle cx="1043.5" cy="196.6" r="5.3" fill="#b4c0af" stroke="#b4c0af"/>
<circle cx="1058.3" cy="197.0" r="5.3" fill="#b4c0af" stroke="#b4c0af"/>
<circle cx="1062.0" cy="196.0" r="5.3" fill="#b3bfae" stroke="#b3bfae"/>
<circle cx="1064.7" cy="195.1" r="5.3" fill="#b2bfad" stroke="#b2bfad"/>
<circle cx="1034.3" cy="223.6" r="5.3" fill="#d3d3d3" stroke="#d3d3d3"/>
<circle cx="1038.0" cy="224.5" r="5.3" fill="#d3d2d2" stroke="#d3d2d2"/>
<circle cx="1046.3" cy="220.8" r="5.3" fill="#cfd1cf" stroke="#cfd1cf"/>
<circle cx="1051.8" cy="222.7" r="5.3" fill="#d2d2d1" stroke="#d2d2d1"/>
<circle cx="1056.4" cy="223.6" r="5.3" fill="#d3d3d3" stroke="#d3d3d3"/>
<circle cx="1061.0" cy="224.1" r="5.3" fill="#d3d3d3" stroke="#d3d3d3"/>
<circle cx="1065.7" cy="222.7" r="5.3" fill="#d2d2d1" stroke="#d2d2d1"/>
<circle cx="1069.3" cy="222.3" r="5.3" fill="#d1d2d1" stroke="#d1d2d1"/>
<circle cx="1074.0" cy="224.5" r="5.3" fill="#d3d2d2" stroke="#d3d2d2"/>
<circle cx="1071.2" cy="249.4" r="5.3" fill="#ccb7b4" stroke="#ccb7b4"/>
<circle cx="1070.8" cy="277.1" r="5.3" fill="#c39994" stroke="#c39994"/>
<circle cx="1163.4" cy="63.5" r="5.3" fill="#006400" stroke="#006400"/>
<circle cx="1166.2" cy="63.1" r="5.3" fill="#006400" stroke="#006400"/>
<circle cx="1169.0" cy="64.0" r="5.3" fill="#016401" stroke="#016401"/>
<circle cx="1171.4" cy="64.9" r="5.3" fill="#056502" stroke="#056502"/>
<circle cx="1178.2" cy="62.9" r="5.3" fill="#006400" stroke="#006400"/>
<circle cx="1180.0" cy="64.1" r="5.3" fill="#026401" stroke="#026401"/>
<circle cx="1181.9" cy="63.5" r="5.3" fill="#006400" stroke="#006400"/>
<circle cx="1183.7" cy="62.9" r="5.3" fill="#006400" stroke="#006400"/>
<circle cx="1185.6" cy="64.1" r="5.3" fill="#026401" stroke="#026401"/>
<circle cx="1187.4" cy="63.5" r="5.3" fill="#006400" stroke="#006400"/>
<circle cx="1189.3" cy="62.9" r="5.3" fill="#006400" stroke="#006400"/>
<circle cx="1191.1" cy="64.1" r="5.3" fill="#026401" stroke="#026401"/>
<circle cx="1193.0" cy="63.5" r="5.3" fill="#006400" stroke="#006400"/>
<circle cx="1194.8" cy="62.9" r="5.3" fill="#006400" stroke="#006400"/>
<circle cx="1196.7" cy="64.1" r="5.3" fill="#026401" stroke="#026401"/>
<circle cx="1198.5" cy="63.5" r="5.3" fill="#006400" stroke="#006400"/>
<circle cx="1205.0" cy="63.5" r="5.3" fill="#006400" stroke="#006400"/>
<circle cx="1169.9" cy="89.8" r="5.3" fill="#36762a" stroke="#36762a"/>
<circle cx="1172.7" cy="89.3" r="5.3" fill="#357629" stroke="#357629"/>
<circle cx="1175.8" cy="88.9" r="5.3" fill="#357528" stroke="#357528"/>
<circle cx="1179.1" cy="88.4" r="5.3" fill="#347528" stroke="#347528"/>
<circle cx="1190.2" cy="89.3" r="5.3" fill="#357629" stroke="#357629"/>
<circle cx="1192.0" cy="91.1" r="5.3" fill="#38772b" stroke="#38772b"/>
<circle cx="1200.9" cy="90.8" r="5.3" fill="#37772b" stroke="#37772b"/>
<circle cx="1161.6" cy="117.0" r="5.3" fill="#58894b" stroke="#58894b"/>
<circle cx="1164.4" cy="116.0" r="5.3" fill="#57884a" stroke="#57884a"/>
<circle cx="1167.1" cy="115.1" r="5.3" fill="#568749" stroke="#568749"/>
<circle cx="1172.7" cy="116.0" r="5.3" fill="#57884a" stroke="#57884a"/>
<circle cx="1175.4" cy="115.1" r="5.3" fill="#568749" stroke="#568749"/>
<circle cx="1188.4" cy="116.0" r="5.3" fill="#57884a" stroke="#57884a"/>
<circle cx="1191.1" cy="117.9" r="5.3" fill="#59894c" stroke="#59894c"/>
<circle cx="1196.7" cy="117.3" r="5.3" fill="#59894c" stroke="#59894c"/>
<circle cx="1200.3" cy="116.6" r="5.3" fill="#58884b" stroke="#58884b"/>
<circle cx="1161.0" cy="142.5" r="5.3" fill="#769a6a" stroke="#769a6a"/>
<circle cx="1170.8" cy="142.5" r="5.3" fill="#769a6a" stroke="#769a6a"/>
<circle cx="1174.5" cy="143.5" r="5.3" fill="#779b6c" stroke="#779b6c"/>
<circle cx="1194.8" cy="142.5" r="5.3" fill="#769a6a" stroke="#769a6a"/>
<circle cx="1197.6" cy="143.5" r="5.3" fill="#779b6c" stroke="#779b6c"/>
<circle cx="1203.1" cy="144.4" r="5.3" fill="#789c6d" stroke="#789c6d"/>
<circle cx="1160.7" cy="169.8" r="5.3" fill="#95ad8c" stroke="#95ad8c"/>
<circle cx="1164.4" cy="170.2" r="5.3" fill="#96ae8d" stroke="#96ae8d"/>
<circle cx="1168.1" cy="169.3" r="5.3" fill="#95ad8c" stroke="#95ad8c"/>
<circle cx="1172.1" cy="168.4" r="5.3" fill="#93ac8b" stroke="#93ac8b"/>
<circle cx="1174.5" cy="171.1" r="5.3" fill="#97ae8e" stroke="#97ae8e"/>
<circle cx="1182.8" cy="169.8" r="5.3" fill="#95ad8c" stroke="#95ad8c"/>
<circle cx="1188.4" cy="170.8" r="5.3" fill="#96ae8e" stroke="#96ae8e"/>
<circle cx="1193.0" cy="169.3" r="5.3" fill="#95ad8c" stroke="#95ad8c"/>
<circle cx="1196.7" cy="169.3" r="5.3" fill="#95ad8c" stroke="#95ad8c"/>
<circle cx="1200.3" cy="169.8" r="5.3" fill="#95ad8c" stroke="#95ad8c"/>
<circle cx="1204.0" cy="170.2" r="5.3" fill="#96ae8d" stroke="#96ae8d"/>
<circle cx="1169.0" cy="196.0" r="5.3" fill="#b3bfae" stroke="#b3bfae"/>
<circle cx="1172.7" cy="197.0" r="5.3" fill="#b4c0af" stroke="#b4c0af"/>
<circle cx="1177.3" cy="197.9" r="5.3" fill="#b5c1b1" stroke="#b5c1b1"/>
<circle cx="1188.4" cy="195.1" r="5.3" fill="#b2bfad" stroke="#b2bfad"/>
<circle cx="1193.9" cy="197.3" r="5.3" fill="#b4c0b0" stroke="#b4c0b0"/>
<circle cx="1197.6" cy="197.0" r="5.3" fill="#b4c0af" stroke="#b4c0af"/>
<circle cx="1200.3" cy="197.9" r="5.3" fill="#b5c1b1" stroke="#b5c1b1"/>
<circle cx="1162.5" cy="223.6" r="5.3" fill="#d3d3d3" stroke="#d3d3d3"/>
<circle cx="1165.3" cy="224.5" r="5.3" fill="#d3d2d2" stroke="#d3d2d2"/>
<circle cx="1169.0" cy="222.7" r="5.3" fill="#d2d2d1" stroke="#d2d2d1"/>
<circle cx="1172.1" cy="222.7" r="5.3" fill="#d2d2d1" stroke="#d2d2d1"/>
<circle cx="1175.4" cy="224.1" r="5.3" fill="#d3d3d3" stroke="#d3d3d3"/>
<circle cx="1178.2" cy="223.6" r="5.3" fill="#d3d3d3" stroke="#d3d3d3"/>
<circle cx="1180.6" cy="222.7" r="5.3" fill="#d2d2d1" stroke="#d2d2d1"/>
<circle cx="1192.0" cy="223.6" r="5.3" fill="#d3d3d3" stroke="#d3d3d3"/>
<circle cx="1195.7" cy="222.7" r="5.3" fill="#d2d2d1" stroke="#d2d2d1"/>
<circle cx="1199.4" cy="224.1" r="5.3" fill="#d3d3d3" stroke="#d3d3d3"/>
<circle cx="1187.4" cy="248.9" r="5.3" fill="#ccb7b5" stroke="#ccb7b5"/>
<circle cx="1185.0" cy="277.5" r="5.3" fill="#c39894" stroke="#c39894"/>
<circle cx="1291.9" cy="63.6" r="5.3" fill="#006400" stroke="#006400"/>
<circle cx="1294.7" cy="63.8" r="5.3" fill="#016400" stroke="#016400"/>
<circle cx="1301.3" cy="63.6" r="5.3" fill="#006400" stroke="#006400"/>
<circle cx="1316.5" cy="64.1" r="5.3" fill="#026401" stroke="#026401"/>
<circle cx="1318.0" cy="63.8" r="5.3" fill="#016400" stroke="#016400"/>
<circle cx="1319.4" cy="64.0" r="5.3" fill="#016401" stroke="#016401"/>
<circle cx="1321.0" cy="64.1" r="5.3" fill="#026401" stroke="#026401"/>
<circle cx="1322.6" cy="64.1" r="5.3" fill="#026401" stroke="#026401"/>
<circle cx="1293.0" cy="118.4" r="5.3" fill="#5a8a4d" stroke="#5a8a4d"/>
<circle cx="1300.5" cy="117.5" r="5.3" fill="#59894c" stroke="#59894c"/>
<circle cx="1326.7" cy="117.0" r="5.3" fill="#58894b" stroke="#58894b"/>
<circle cx="1328.9" cy="116.4" r="5.3" fill="#58884a" stroke="#58884a"/>
<circle cx="1331.3" cy="115.7" r="5.3" fill="#57884a" stroke="#57884a"/>
<circle cx="1309.2" cy="170.6" r="5.3" fill="#96ae8d" stroke="#96ae8d"/>
<circle cx="1291.7" cy="225.2" r="5.3" fill="#d3d2d1" stroke="#d3d2d1"/>
<circle cx="1293.6" cy="225.1" r="5.3" fill="#d3d2d2" stroke="#d3d2d2"/>
<circle cx="1295.6" cy="223.8" r="5.3" fill="#d3d3d3" stroke="#d3d3d3"/>
<circle cx="1297.5" cy="224.0" r="5.3" fill="#d3d3d3" stroke="#d3d3d3"/>
<circle cx="1299.5" cy="224.1" r="5.3" fill="#d3d3d3" stroke="#d3d3d3"/>
<circle cx="1301.4" cy="224.4" r="5.3" fill="#d3d2d2" stroke="#d3d2d2"/>
<circle cx="1303.4" cy="224.3" r="5.3" fill="#d3d3d2" stroke="#d3d3d2"/>
<circle cx="1305.3" cy="224.2" r="5.3" fill="#d3d3d3" stroke="#d3d3d3"/>
<circle cx="1307.3" cy="224.4" r="5.3" fill="#d3d2d2" stroke="#d3d2d2"/>
<circle cx="1309.2" cy="225.2" r="5.3" fill="#d3d2d1" stroke="#d3d2d1"/>
<circle cx="1318.4" cy="224.1" r="5.3" fill="#d3d3d3" stroke="#d3d3d3"/>
<circle cx="1320.1" cy="223.9" r="5.3" fill="#d3d3d3" stroke="#d3d3d3"/>
<circle cx="1321.9" cy="224.6" r="5.3" fill="#d3d2d2" stroke="#d3d2d2"/>
<circle cx="1323.6" cy="223.5" r="5.3" fill="#d3d3d2" stroke="#d3d3d2"/>
<circle cx="1325.4" cy="223.6" r="5.3" fill="#d3d3d3" stroke="#d3d3d3"/>
<circle cx="1327.1" cy="225.2" r="5.3" fill="#d3d2d1" stroke="#d3d2d1"/>
<circle cx="1328.9" cy="224.2" r="5.3" fill="#d3d3d3" stroke="#d3d3d3"/>
<circle cx="1330.6" cy="224.2" r="5.3" fill="#d3d3d3" stroke="#d3d3d3"/>
<circle cx="1332.4" cy="222.9" r="5.3" fill="#d2d2d2" stroke="#d2d2d2"/>
<circle cx="1334.1" cy="223.9" r="5.3" fill="#d3d3d3" stroke="#d3d3d3"/>
<circle cx="1294.1" cy="277.7" r="5.3" fill="#c39893" stroke="#c39893"/>
<circle cx="1311.6" cy="278.7" r="5.3" fill="#c29792" stroke="#c29792"/>
<circle cx="1314.2" cy="278.7" r="5.3" fill="#c29792" stroke="#c29792"/>
<circle cx="1323.0" cy="275.9" r="5.3" fill="#c39a95" stroke="#c39a95"/>
<circle cx="1327.7" cy="278.7" r="5.3" fill="#c29792" stroke="#c29792"/>
<circle cx="1328.6" cy="279.6" r="5.3" fill="#c29691" stroke="#c29691"/>
<circle cx="1335.6" cy="279.0" r="5.3" fill="#c29792" stroke="#c29792"/>
<circle cx="1312.5" cy="383.0" r="5.3" fill="#8d2225" stroke="#8d2225"/>
<circle cx="1319.0" cy="384.3" r="5.3" fill="#8c2024" stroke="#8c2024"/>
</g>
<line x1="973.3" x2="1392.0" y1="223.9" y2="223.9" stroke="#606060" stroke-width="2.9" stroke-dasharray="12.3,11.77"/>
<line x1="1052.3" x2="1052.3" y1="67.6" y2="194.7" stroke="#000" stroke-width="2.9"/>
<circle cx="1052.3" cy="131.4" r="10.3" fill="#000"/>
<line x1="1183.3" x2="1183.3" y1="82.8" y2="203.4" stroke="#000" stroke-width="2.9"/>
<circle cx="1183.3" cy="143.7" r="10.3" fill="#000"/>
<line x1="1314.3" x2="1314.3" y1="144" y2="275.9" stroke="#000" stroke-width="2.9"/>
<circle cx="1314.3" cy="209.8" r="10.3" fill="#000"/>
<rect x="974.4" y="47.5" width="417.6" height="352.2" fill="none" stroke="#3a3a3a" stroke-width="1.8"/>
<rect x="974.4" y="2.0" width="417.6" height="45.5" fill="#d9d9d9" stroke="#3a3a3a" stroke-width="1.8"/>
<path d="M976.0 3.2 V45.3 H1391.0" fill="none" stroke="#e8e8e8" stroke-width="1.3"/>
<line x1="973.6" x2="1392.8" y1="47.5" y2="47.5" stroke="#3a3a3a" stroke-width="3.1"/>
<text x="1183.2" y="32.9" font-size="24.95" text-anchor="middle" fill="#1a1a1a">Language Proficiency</text>
<line x1="1052.0" x2="1052.0" y1="399.7" y2="407.7" stroke="#3a3a3a" stroke-width="2.9"/>
<text transform="translate(1063.4,424.1) rotate(-45)" font-size="24.95" text-anchor="end" fill="#4d4d4d">Std. German</text>
<line x1="1183.1" x2="1183.1" y1="399.7" y2="407.7" stroke="#3a3a3a" stroke-width="2.9"/>
<text transform="translate(1194.5,424.1) rotate(-45)" font-size="24.95" text-anchor="end" fill="#4d4d4d">Austrian Dialect</text>
<line x1="1314.3" x2="1314.3" y1="399.7" y2="407.7" stroke="#3a3a3a" stroke-width="2.9"/>
<text transform="translate(1325.7,424.1) rotate(-45)" font-size="24.95" text-anchor="end" fill="#4d4d4d">L1(s)</text>
<line x1="96.4" x2="105.2" y1="63.6" y2="63.6" stroke="#3a3a3a" stroke-width="2.9"/>
<text x="89.9" y="72.4" font-size="24.95" text-anchor="end" fill="#4d4d4d">3</text>
<line x1="96.4" x2="105.2" y1="223.9" y2="223.9" stroke="#3a3a3a" stroke-width="2.9"/>
<text x="89.9" y="232.7" font-size="24.95" text-anchor="end" fill="#4d4d4d">0</text>
<line x1="96.4" x2="105.2" y1="384.2" y2="384.2" stroke="#3a3a3a" stroke-width="2.9"/>
<text x="89.9" y="393.0" font-size="24.95" text-anchor="end" fill="#4d4d4d">-3</text>
<text transform="translate(21.8,223.9) rotate(-90)" font-size="31.15" text-anchor="middle" fill="#000">Self-Reported Change</text>
</svg></body></html>
